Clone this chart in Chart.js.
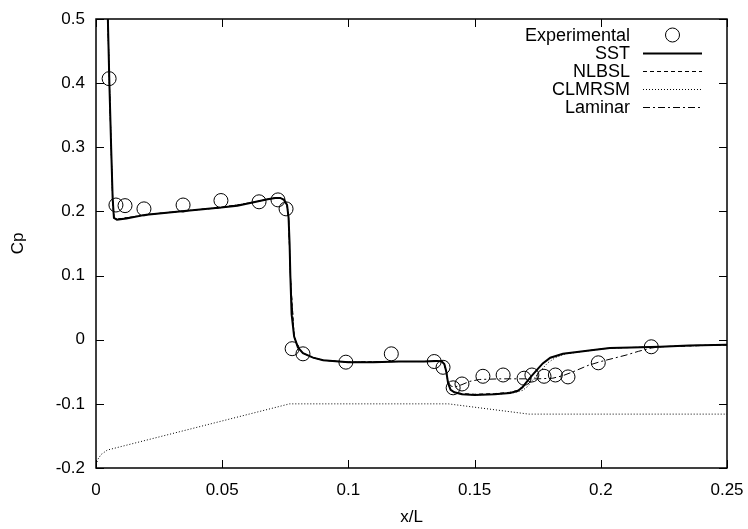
<!DOCTYPE html>
<html>
<head>
<meta charset="utf-8">
<script src="https://cdn.jsdelivr.net/npm/chart.js@4.4.1/dist/chart.umd.min.js"></script>
<style>
  html, body { margin: 0; padding: 0; background: #fff; }
  #wrap { width: 748px; height: 529px; }
</style>
</head>
<body>
<div id="wrap"><canvas id="chart" width="748" height="529"></canvas></div>
<script>
// Experimental points
const expX = [0.0052, 0.0079, 0.0115, 0.019, 0.0345, 0.0495, 0.0646, 0.0721, 0.0753, 0.0777, 0.082,
    0.099, 0.117, 0.134, 0.1375, 0.1415, 0.145, 0.1533, 0.1613, 0.1696, 0.1727, 0.1775, 0.182, 0.187, 0.199, 0.220];
const expY = [0.407, 0.210, 0.209, 0.204, 0.210, 0.217, 0.215, 0.218, 0.204, -0.014, -0.022,
    -0.035, -0.022, -0.034, -0.043, -0.075, -0.069, -0.057, -0.055, -0.060, -0.055, -0.057, -0.055, -0.058, -0.036, -0.011];

// SST
const sstX = [0.0047, 0.0053, 0.006, 0.0066, 0.0071, 0.0083, 0.012, 0.02, 0.033, 0.0495, 0.056, 0.062, 0.068, 0.071,
    0.073, 0.0745, 0.0757, 0.0763, 0.0767, 0.077, 0.0775, 0.0785, 0.080, 0.082, 0.086, 0.09, 0.1, 0.11, 0.12, 0.13,
    0.135, 0.137, 0.138, 0.1388, 0.1395, 0.1405, 0.142, 0.145, 0.15, 0.158, 0.164, 0.167, 0.169, 0.1708, 0.1727,
    0.1747, 0.177, 0.18, 0.185, 0.1906, 0.197, 0.2036, 0.212, 0.2235, 0.235, 0.25];
const sstY = [0.5, 0.4, 0.3, 0.22, 0.19, 0.187, 0.189, 0.195, 0.2, 0.206, 0.209, 0.214, 0.219, 0.221,
    0.221, 0.218, 0.21, 0.19, 0.15, 0.1, 0.04, 0.005, -0.012, -0.021, -0.028, -0.032, -0.035, -0.035, -0.034, -0.034,
    -0.033, -0.034, -0.038, -0.05, -0.068, -0.078, -0.082, -0.085, -0.086, -0.085, -0.083, -0.08, -0.074, -0.065, -0.056,
    -0.047, -0.037, -0.028, -0.022, -0.019, -0.016, -0.013, -0.012, -0.011, -0.009, -0.008];

// NLBSL (nearly on top of SST)
const nlbslX = [0.0047, 0.0053, 0.006, 0.0066, 0.0071, 0.0083, 0.012, 0.02, 0.033, 0.0495, 0.062, 0.068, 0.071,
    0.073, 0.0745, 0.0757, 0.0763, 0.077, 0.0785, 0.080, 0.082, 0.086, 0.09, 0.1, 0.12, 0.13,
    0.135, 0.137, 0.138, 0.1388, 0.1395, 0.1405, 0.142, 0.145, 0.15, 0.158, 0.164, 0.167, 0.169, 0.171, 0.173,
    0.175, 0.1775, 0.18, 0.185, 0.1906, 0.2036, 0.2235, 0.25];
const nlbslY = [0.5, 0.4, 0.3, 0.22, 0.19, 0.188, 0.19, 0.195, 0.2, 0.206, 0.214, 0.219, 0.221,
    0.221, 0.218, 0.21, 0.19, 0.1, 0.005, -0.012, -0.021, -0.028, -0.032, -0.035, -0.034, -0.034,
    -0.033, -0.034, -0.038, -0.05, -0.068, -0.078, -0.082, -0.084, -0.085, -0.084, -0.082, -0.079, -0.073, -0.064, -0.055,
    -0.046, -0.036, -0.028, -0.022, -0.019, -0.013, -0.011, -0.008];

// CLMRSM (rise near 0.17 slightly later)
const clmrsmX = [0.0047, 0.0053, 0.006, 0.0066, 0.0071, 0.0083, 0.012, 0.02, 0.033, 0.0495, 0.062, 0.068, 0.071,
    0.073, 0.0745, 0.0757, 0.0763, 0.077, 0.0785, 0.080, 0.082, 0.086, 0.09, 0.1, 0.12, 0.13,
    0.135, 0.137, 0.138, 0.1388, 0.1395, 0.1405, 0.142, 0.145, 0.15, 0.158, 0.165, 0.169, 0.171, 0.1728, 0.1747,
    0.1767, 0.179, 0.182, 0.186, 0.1915, 0.2036, 0.2235, 0.25];
const clmrsmY = [0.5, 0.4, 0.3, 0.22, 0.19, 0.188, 0.19, 0.195, 0.2, 0.206, 0.214, 0.219, 0.221,
    0.221, 0.218, 0.21, 0.19, 0.1, 0.005, -0.012, -0.021, -0.028, -0.032, -0.035, -0.034, -0.034,
    -0.033, -0.034, -0.038, -0.05, -0.068, -0.078, -0.082, -0.085, -0.086, -0.085, -0.083, -0.079, -0.073, -0.064, -0.055,
    -0.046, -0.036, -0.028, -0.022, -0.019, -0.013, -0.011, -0.008];

// Laminar
const laminarX = [0.0047, 0.0053, 0.006, 0.0066, 0.0071, 0.0083, 0.012, 0.02, 0.033, 0.0495, 0.062, 0.068, 0.071,
    0.073, 0.0745, 0.0757, 0.0763, 0.077, 0.0785, 0.080, 0.082, 0.086, 0.09, 0.1, 0.12, 0.13,
    0.135, 0.137, 0.138, 0.1388, 0.1395, 0.1405, 0.142, 0.145, 0.148, 0.152, 0.16, 0.168, 0.175, 0.181, 0.185,
    0.189, 0.195, 0.2, 0.205, 0.21, 0.215, 0.22, 0.2235, 0.235, 0.25];
const laminarY = [0.5, 0.4, 0.3, 0.22, 0.19, 0.188, 0.19, 0.195, 0.2, 0.206, 0.214, 0.219, 0.221,
    0.221, 0.218, 0.21, 0.19, 0.1, 0.005, -0.012, -0.021, -0.028, -0.032, -0.035, -0.034, -0.034,
    -0.033, -0.034, -0.038, -0.05, -0.065, -0.072, -0.074, -0.07, -0.065, -0.062, -0.061, -0.061, -0.061, -0.06, -0.056,
    -0.05, -0.04, -0.034, -0.029, -0.024, -0.018, -0.013, -0.011, -0.009, -0.008];

// Geometry outline drawn along the bottom (dotted)
const geomX = [0, 0.0008, 0.002, 0.0045, 0.0767, 0.1396, 0.1715, 0.25];
const geomY = [-0.195, -0.186, -0.179, -0.172, -0.1, -0.1, -0.116, -0.116];

const xTicks = [0, 0.05, 0.1, 0.15, 0.2, 0.25];
const yTicks = [-0.2, -0.1, 0, 0.1, 0.2, 0.3, 0.4, 0.5];

const legendLabels = ['Experimental', 'SST', 'NLBSL', 'CLMRSM', 'Laminar'];

const FONT = '"Liberation Sans", Arial, sans-serif';

function toPoints(xs, ys) {
    return xs.map((x, i) => ({ x: x, y: ys[i] }));
}

function lineSet(label, xs, ys, width, dash) {
    return {
        label: label,
        data: toPoints(xs, ys),
        showLine: true,
        borderColor: '#000',
        borderWidth: width,
        borderDash: dash,
        pointRadius: 0,
        fill: false,
        tension: 0
    };
}

// Scale padding from label overhang is dropped so the layout padding sets the plot box.
function noOverhang(s) {
    s.paddingLeft = 0;
    s.paddingRight = 0;
    s.paddingTop = 0;
    s.paddingBottom = 0;
}

// Inner tick marks on all four sides plus the frame.
const framePlugin = {
    id: 'frame',
    afterDraw(chart) {
        const ctx = chart.ctx;
        const a = chart.chartArea;
        const xs = chart.scales.x;
        const ys = chart.scales.y;
        const len = 8;
        ctx.save();
        ctx.strokeStyle = '#000';
        ctx.lineWidth = 1;
        ctx.setLineDash([]);
        ctx.beginPath();
        xTicks.forEach(v => {
            const px = Math.round(xs.getPixelForValue(v)) + 0.5;
            ctx.moveTo(px, a.bottom); ctx.lineTo(px, a.bottom - len);
            ctx.moveTo(px, a.top); ctx.lineTo(px, a.top + len);
        });
        yTicks.forEach(v => {
            const py = Math.round(ys.getPixelForValue(v)) + 0.5;
            ctx.moveTo(a.left, py); ctx.lineTo(a.left + len, py);
            ctx.moveTo(a.right, py); ctx.lineTo(a.right - len, py);
        });
        ctx.stroke();
        ctx.lineWidth = 1.5;
        ctx.strokeRect(a.left, a.top, a.right - a.left, a.bottom - a.top);
        ctx.restore();
    }
};

// gnuplot-style key: text right-aligned, sample on the right.
const keyPlugin = {
    id: 'key',
    afterDraw(chart) {
        const ctx = chart.ctx;
        const textRight = 630;
        const sx0 = 643, sx1 = 702;
        const top = 35, step = 18;
        ctx.save();
        ctx.font = '18px ' + FONT;
        ctx.fillStyle = '#000';
        ctx.textAlign = 'right';
        ctx.textBaseline = 'middle';
        legendLabels.forEach((lbl, i) => {
            const y = top + i * step;
            const ds = chart.data.datasets[i];
            ctx.fillText(lbl, textRight, y + 1);
            ctx.strokeStyle = '#000';
            if (i === 0) {
                ctx.setLineDash([]);
                ctx.lineWidth = 1;
                ctx.beginPath();
                ctx.arc((sx0 + sx1) / 2, y, 7, 0, Math.PI * 2);
                ctx.stroke();
            } else {
                ctx.lineWidth = ds.borderWidth;
                ctx.setLineDash(ds.borderDash || []);
                ctx.beginPath();
                ctx.moveTo(sx0, y + 0.5);
                ctx.lineTo(sx1, y + 0.5);
                ctx.stroke();
            }
        });
        ctx.restore();
    }
};

function fmt(v) {
    return String(Number(v.toFixed(3)));
}

new Chart(document.getElementById('chart'), {
    type: 'scatter',
    data: {
        datasets: [
            {
                label: 'Experimental',
                data: toPoints(expX, expY),
                showLine: false,
                pointStyle: 'circle',
                pointRadius: 7,
                pointBorderWidth: 1,
                borderColor: '#000',
                backgroundColor: 'rgba(0,0,0,0)',
                order: 0
            },
            lineSet('SST', sstX, sstY, 2, []),
            lineSet('NLBSL', nlbslX, nlbslY, 1, [4, 3]),
            lineSet('CLMRSM', clmrsmX, clmrsmY, 1, [1, 2]),
            lineSet('Laminar', laminarX, laminarY, 1, [7, 3, 2, 3]),
            lineSet('geometry', geomX, geomY, 1, [1, 2])
        ]
    },
    options: {
        responsive: false,
        animation: false,
        layout: { padding: { left: 0, right: 21, top: 19, bottom: 0 } },
        plugins: {
            legend: { display: false },
            tooltip: { enabled: false }
        },
        scales: {
            x: {
                type: 'linear',
                min: 0,
                max: 0.25,
                afterFit(s) { s.height = 61; noOverhang(s); },
                afterBuildTicks(s) { s.ticks = xTicks.map(v => ({ value: v })); },
                grid: { display: false, drawTicks: false },
                border: { display: false },
                ticks: {
                    color: '#000',
                    padding: 12,
                    maxRotation: 0,
                    font: { family: FONT, size: 17 },
                    callback: v => fmt(v)
                },
                title: {
                    display: true,
                    text: 'x/L',
                    color: '#000',
                    font: { family: FONT, size: 17 },
                    padding: { top: 0, bottom: 1 }
                }
            },
            y: {
                type: 'linear',
                min: -0.2,
                max: 0.5,
                afterFit(s) { s.width = 96; noOverhang(s); },
                afterBuildTicks(s) { s.ticks = yTicks.map(v => ({ value: v })); },
                grid: { display: false, drawTicks: false },
                border: { display: false },
                ticks: {
                    color: '#000',
                    padding: 11,
                    font: { family: FONT, size: 17 },
                    callback: v => fmt(v)
                },
                title: {
                    display: true,
                    text: 'Cp',
                    color: '#000',
                    font: { family: FONT, size: 17 },
                    padding: { top: 8, bottom: 0 }
                }
            }
        }
    },
    plugins: [framePlugin, keyPlugin]
});
</script>
</body>
</html>
